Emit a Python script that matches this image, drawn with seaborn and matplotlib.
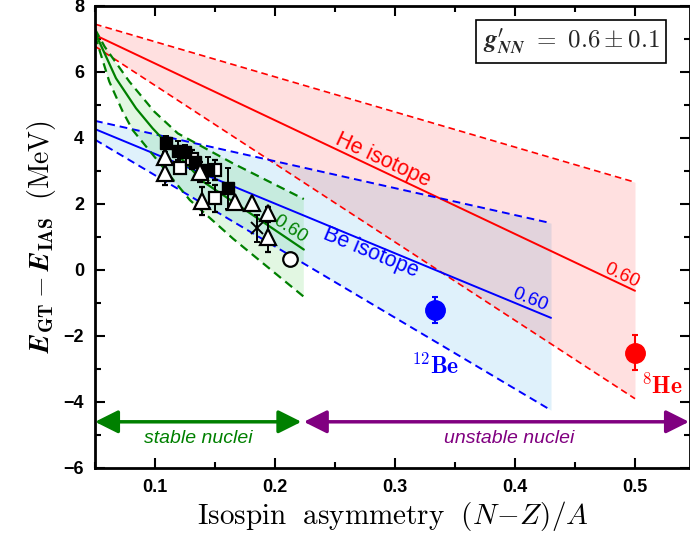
import numpy as np
import matplotlib
matplotlib.use("Agg")
import matplotlib.pyplot as plt
import seaborn as sns

# He isotope band (straight lines, end points)
he_x = [0.05, 0.5]
he_mid = [7.12, -0.63]
he_up = [7.45, 2.66]
he_lo = [6.78, -3.90]

# Be isotope band
be_x = [0.05, 0.43]
be_mid = [4.27, -1.45]
be_up = [4.52, 1.42]
be_lo = [3.95, -4.25]

# stable nuclei band (curved)
st_up_x = [0.05, 0.058, 0.0786, 0.0994, 0.119, 0.165, 0.224]
st_up_y = [7.3, 6.77, 5.71, 4.80, 4.14, 3.23, 2.15]
st_mid_x = [0.05, 0.0675, 0.0842, 0.0981, 0.14, 0.176, 0.224]
st_mid_y = [7.2, 5.81, 4.90, 4.29, 2.68, 1.80, 0.62]
st_lo_x = [0.05, 0.0619, 0.0731, 0.0814, 0.129, 0.165, 0.224]
st_lo_y = [7.1, 5.71, 4.80, 4.24, 2.12, 0.95, -0.81]

# measured points
fsq_x = [0.109, 0.1194, 0.125, 0.1333, 0.1444, 0.1606]
fsq_y = [3.86, 3.62, 3.59, 3.28, 3.03, 2.47]
fsq_e = [0.2, 0.3, 0.2, 0.2, 0.4, 0.62]

tri_x = [0.1083, 0.1083, 0.1375, 0.139, 0.1667, 0.1806, 0.1944, 0.1944]
tri_y = [3.43, 2.93, 2.98, 2.10, 2.07, 2.02, 1.72, 1.01]
tri_e = [0.15, 0.35, 0.3, 0.42, 0.1, 0.1, 0.2, 0.45]

osq_x = [0.1208, 0.131, 0.15, 0.15]
osq_y = [3.08, 3.35, 3.03, 2.17]
osq_e = [0.1, 0.3, 0.3, 0.42]

crs_x, crs_y, crs_e = [0.1847], [1.26], [0.41]
circ_x, circ_y = [0.2125], [0.32]

be12 = (0.3333, -1.21, 0.40)
he8 = (0.5, -2.51, 0.53)

sns.set_theme(style="ticks")
plt.rcParams["mathtext.fontset"] = "cm"
plt.rcParams["font.family"] = ["Liberation Sans", "DejaVu Sans"]

fig = plt.figure(figsize=(6.9, 5.41), dpi=100)
ax = fig.add_axes([95 / 690, 73 / 541, 595 / 690, 462 / 541])

# fills
ax.fill_between(be_x, be_lo, be_up, color="#dff1fb", lw=0, zorder=1)
ax.fill_between(he_x, he_lo, he_up, color="red", alpha=0.12, lw=0, zorder=1)
ax.fill(st_up_x + st_lo_x[::-1], st_up_y + st_lo_y[::-1],
        color="#33cc33", alpha=0.14, lw=0, zorder=1)

dash = (4, 2.5)
sns.lineplot(x=he_x, y=he_mid, color="red", lw=1.4, ax=ax, zorder=2)
sns.lineplot(x=he_x, y=he_up, color="red", lw=1.2, ax=ax, zorder=2).lines[-1].set_dashes(dash)
sns.lineplot(x=he_x, y=he_lo, color="red", lw=1.2, ax=ax, zorder=2).lines[-1].set_dashes(dash)
sns.lineplot(x=be_x, y=be_mid, color="blue", lw=1.4, ax=ax, zorder=2)
sns.lineplot(x=be_x, y=be_up, color="blue", lw=1.4, ax=ax, zorder=2).lines[-1].set_dashes(dash)
sns.lineplot(x=be_x, y=be_lo, color="blue", lw=1.4, ax=ax, zorder=2).lines[-1].set_dashes(dash)
sns.lineplot(x=st_mid_x, y=st_mid_y, color="green", lw=1.6, sort=False, ax=ax, zorder=2)
sns.lineplot(x=st_up_x, y=st_up_y, color="green", lw=1.6, sort=False, ax=ax, zorder=2).lines[-1].set_dashes(dash)
sns.lineplot(x=st_lo_x, y=st_lo_y, color="green", lw=1.6, sort=False, ax=ax, zorder=2).lines[-1].set_dashes(dash)

# data points
ekw = dict(ecolor="black", elinewidth=1.4, capsize=2, capthick=1.4, zorder=4)
ax.errorbar(osq_x, osq_y, yerr=osq_e, fmt="s", ms=8.5, mfc="white", mec="black", mew=1.6, **ekw)
ax.errorbar(fsq_x, fsq_y, yerr=fsq_e, fmt="s", ms=8, mfc="black", mec="black", **ekw)
ax.errorbar(tri_x, tri_y, yerr=tri_e, fmt="^", ms=11.5, mfc="white", mec="black", mew=1.6, **ekw)
ax.errorbar(crs_x, crs_y, yerr=crs_e, fmt="x", ms=8, mec="black", mew=1.4, **ekw)
ax.plot(circ_x, circ_y, "o", ms=10.5, mfc="white", mec="black", mew=1.6, zorder=4)
ax.errorbar([be12[0]], [be12[1]], yerr=[be12[2]], fmt="o", ms=14, color="blue",
            elinewidth=1.5, capsize=2.5, capthick=1.5, zorder=4)
ax.errorbar([he8[0]], [he8[1]], yerr=[he8[2]], fmt="o", ms=14, color="red",
            elinewidth=1.5, capsize=2.5, capthick=1.5, zorder=4)

# labels on plot
ax.text(0.29, 3.33, "He isotope", color="red", fontsize=15.5, rotation=-25,
        ha="center", va="center", zorder=5)
ax.text(0.28, 0.52, "Be isotope", color="blue", fontsize=15.5, rotation=-22.5,
        ha="center", va="center", zorder=5)
ax.text(0.2125, 1.24, "0.60", color="green", fontsize=13.5, rotation=-33,
        ha="center", va="center", zorder=5)
ax.text(0.4125, -0.91, "0.60", color="blue", fontsize=13.5, rotation=-22,
        ha="center", va="center", zorder=5)
ax.text(0.489, -0.18, "0.60", color="red", fontsize=13.5, rotation=-25,
        ha="center", va="center", zorder=5)
ax.text(0.3333, -2.92, r"$^{\mathbf{12}}\mathbf{Be}$", color="blue", fontsize=17,
        ha="center", va="center", zorder=5)
ax.text(0.522, -3.53, r"$^{\mathbf{8}}\mathbf{He}$", color="red", fontsize=17,
        ha="center", va="center", zorder=5)
ax.text(0.80, 0.923, r"$\mathbfit{g}^{\prime}_{\mathbfit{NN}}\mathbf{\ =\ 0.6 \pm 0.1}$",
        transform=ax.transAxes, fontsize=18, ha="center", va="center",
        bbox=dict(boxstyle="square,pad=0.25", fc="white", ec="black", lw=1.2), zorder=6)

# stable / unstable arrows
ax.annotate("", xy=(0.05, -4.6), xytext=(0.222, -4.6),
            arrowprops=dict(arrowstyle="<|-|>,head_length=1.0,head_width=0.5",
                            color="green", lw=2.5, shrinkA=0, shrinkB=0, mutation_scale=14))
ax.annotate("", xy=(0.224, -4.6), xytext=(0.545, -4.6),
            arrowprops=dict(arrowstyle="<|-|>,head_length=1.0,head_width=0.5",
                            color="purple", lw=2.5, shrinkA=0, shrinkB=0, mutation_scale=14))
ax.text(0.136, -5.12, "stable nuclei", color="green", style="italic", fontsize=14,
        ha="center", va="center")
ax.text(0.395, -5.12, "unstable nuclei", color="purple", style="italic", fontsize=14,
        ha="center", va="center")

ax.set_xlim(0.05, 0.05 + 595 / 1200)
ax.set_ylim(-6, 8)
ax.set_xticks([0.1, 0.2, 0.3, 0.4, 0.5])
ax.set_xticks(np.arange(0.05, 0.55, 0.05), minor=True)
ax.set_yticks([-6, -4, -2, 0, 2, 4, 6, 8])
ax.set_yticks(np.arange(-6, 9, 1), minor=True)
ax.set_xticklabels(["0.1", "0.2", "0.3", "0.4", "0.5"])
ax.set_yticklabels(["\u22126", "\u22124", "\u22122", "0", "2", "4", "6", "8"])
ax.tick_params(which="both", direction="in", top=True, right=True, width=1.5,
               colors="black", labelcolor="black")
ax.tick_params(which="major", length=7, labelsize=13, pad=8)
ax.tick_params(which="minor", length=4)
for lab in ax.get_xticklabels() + ax.get_yticklabels():
    lab.set_fontweight("bold")
for sp in ax.spines.values():
    sp.set_linewidth(2)
    sp.set_color("black")

ax.set_xlabel(r"$\mathrm{Isospin\ \ asymmetry}\ \ (N\!-\!Z)/A$", fontsize=21,
              labelpad=2, color="black")
ax.set_ylabel(r"$\mathbfit{E}_{\mathbf{GT}} - \mathbfit{E}_{\mathbf{IAS}}\ \ \mathrm{(MeV)}$",
              fontsize=20, labelpad=4, color="black")

fig.savefig("out.png", dpi=100)
